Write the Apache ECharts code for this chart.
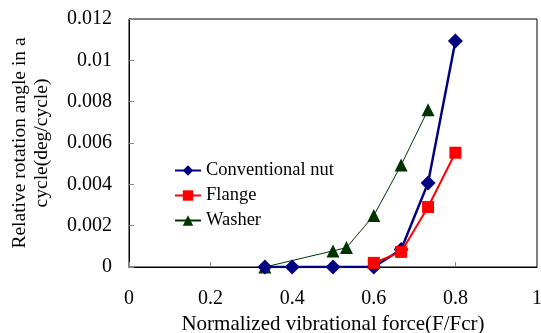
<!DOCTYPE html>
<html>
<head>
<meta charset="utf-8">
<script src="https://cdn.jsdelivr.net/npm/echarts@6/dist/echarts.min.js"></script>
<style>
  html, body { margin: 0; padding: 0; background: #fff; }
  #chart { width: 541px; height: 333px; }
</style>
</head>
<body>
<div id="chart"></div>
<script>
// values
const xTickLabels = ["0", "0.2", "0.4", "0.6", "0.8", "1"];
const yTickLabels = ["0", "0.002", "0.004", "0.006", "0.008", "0.01", "0.012"];

const nutForce = [0.333, 0.4, 0.5, 0.6, 0.667, 0.733, 0.8];
const nutAngle = [0, 0, 0, 0, 0.00085, 0.00407, 0.01093];

const flangeForce = [0.6, 0.667, 0.733, 0.8];
const flangeAngle = [0.0002, 0.00073, 0.0029, 0.00553];

const washerForce = [0.333, 0.5, 0.533, 0.6, 0.667, 0.733];
const washerAngle = [0, 0.00078, 0.00094, 0.00249, 0.00493, 0.00761];

const font = "Liberation Serif";
const pairs = (xs, ys) => xs.map((x, i) => [x, ys[i]]);

const chart = echarts.init(document.getElementById("chart"));

chart.setOption({
  animation: false,
  textStyle: { fontFamily: font },
  grid: {
    left: 129,
    right: 4,
    top: 19,
    bottom: 66,
    containLabel: false,
    outerBoundsMode: "none",
    show: true,
    borderColor: "#000",
    borderWidth: 1,
  },
  legend: {
    orient: "vertical",
    left: 169,
    top: 156,
    itemWidth: 26,
    itemHeight: 13,
    itemGap: 6,
    textStyle: { fontFamily: font, fontSize: 18.5, color: "#000" },
    data: ["Conventional nut", "Flange", "Washer"],
  },
  xAxis: {
    type: "value",
    min: 0,
    max: 1,
    interval: 0.2,
    name: "Normalized vibrational force(F/Fcr)",
    nameLocation: "middle",
    nameGap: 45,
    nameTextStyle: { fontFamily: font, fontSize: 21, color: "#000" },
    axisLine: { lineStyle: { color: "#000" } },
    axisTick: { inside: true, length: 5, lineStyle: { color: "#888" } },
    axisLabel: {
      margin: 22,
      fontFamily: font,
      fontSize: 20,
      color: "#000",
      formatter: (v) => xTickLabels[Math.round(v / 0.2)],
    },
    splitLine: { show: false },
  },
  yAxis: {
    type: "value",
    min: 0,
    max: 0.012,
    interval: 0.002,
    name: "Relative rotation angle in a\ncycle(deg/cycle)",
    nameLocation: "middle",
    nameGap: 76,
    nameTextStyle: { fontFamily: font, fontSize: 19.5, color: "#000", lineHeight: 22 },
    axisLine: { lineStyle: { color: "#000" } },
    axisTick: { inside: true, length: 5, lineStyle: { color: "#888" } },
    axisLabel: {
      margin: 17,
      fontFamily: font,
      fontSize: 20,
      color: "#000",
      formatter: (v) => yTickLabels[Math.round(v / 0.002)],
    },
    splitLine: { show: false },
  },
  series: [
    {
      name: "Conventional nut",
      type: "line",
      data: pairs(nutForce, nutAngle),
      symbol: "diamond",
      symbolSize: 15,
      color: "#000080",
      lineStyle: { width: 2.5, color: "#000080" },
      itemStyle: { color: "#000080" },
      z: 3,
    },
    {
      name: "Flange",
      type: "line",
      data: pairs(flangeForce, flangeAngle),
      symbol: "rect",
      symbolSize: 12,
      color: "#ff0000",
      lineStyle: { width: 2, color: "#ff0000" },
      itemStyle: { color: "#ff0000" },
      z: 4,
    },
    {
      name: "Washer",
      type: "line",
      data: pairs(washerForce, washerAngle),
      symbol: "triangle",
      symbolSize: 13,
      color: "#003300",
      lineStyle: { width: 1, color: "#003300" },
      itemStyle: { color: "#003300" },
      z: 2,
    },
  ],
});
</script>
</body>
</html>
